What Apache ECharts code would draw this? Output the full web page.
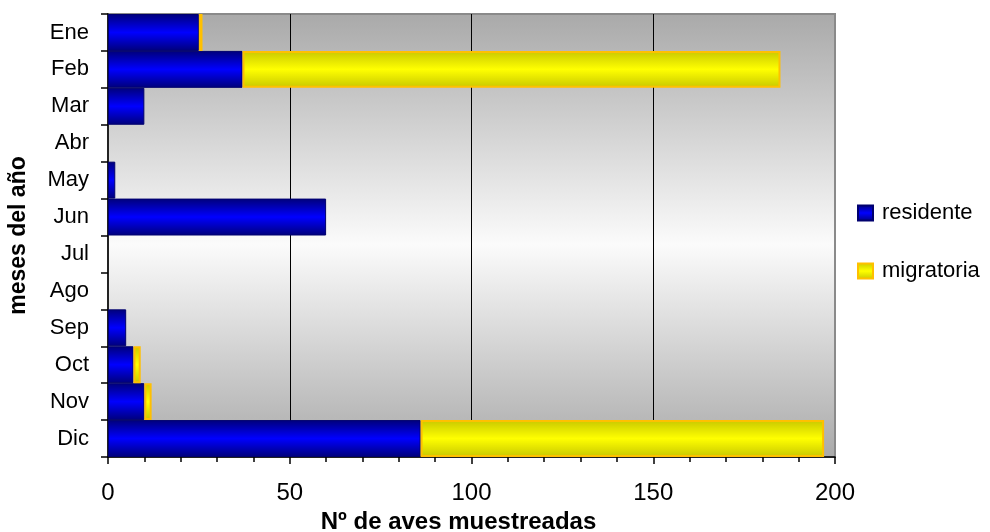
<!DOCTYPE html>
<html>
<head>
<meta charset="utf-8">
<script src="https://cdn.jsdelivr.net/npm/echarts@6/dist/echarts.min.js"></script>
<style>
  html, body { margin: 0; padding: 0; background: #ffffff; }
  #chart { width: 990px; height: 532px; }
</style>
</head>
<body>
<div id="chart"></div>
<script>
// Monthly counts of sampled birds, split by resident / migratory status
const months = ['Ene', 'Feb', 'Mar', 'Abr', 'May', 'Jun', 'Jul', 'Ago', 'Sep', 'Oct', 'Nov', 'Dic'];
const residente = [25, 37, 10, 0, 2, 60, 0, 0, 5, 7, 10, 86];
const migratoria = [1, 148, 0, 0, 0, 0, 0, 0, 0, 2, 2, 111];
const seriesNames = ['residente', 'migratoria'];
const xTicks = [0, 50, 100, 150, 200];

const FONT = '"Liberation Sans", Arial, sans-serif';

// empty months get no rectangle at all
const toBars = arr => arr.map(v => (v === 0 ? null : v));

const band = (edge, mid) => new echarts.graphic.LinearGradient(0, 0, 0, 1, [
  { offset: 0, color: edge },
  { offset: 0.5, color: mid },
  { offset: 1, color: edge }
]);

const chart = echarts.init(document.getElementById('chart'), null, { renderer: 'canvas' });

chart.setOption({
  animation: false,
  backgroundColor: '#ffffff',
  grid: {
    left: 108,
    right: 155,
    top: 14,
    bottom: 75,
    outerBoundsMode: 'none',
    containLabel: false,
    show: true,
    borderColor: '#8a8a8a',
    borderWidth: 2,
    backgroundColor: new echarts.graphic.LinearGradient(0, 0, 0, 1, [
      { offset: 0, color: '#a9a9a9' },
      { offset: 0.52, color: '#fbfbfb' },
      { offset: 1, color: '#a9a9a9' }
    ])
  },
  legend: {
    orient: 'vertical',
    left: 857,
    top: 202,
    padding: 0,
    itemWidth: 15,
    itemHeight: 15,
    itemGap: 36,
    icon: 'rect',
    textStyle: { fontFamily: FONT, fontSize: 22, color: '#000000', padding: [0, 0, 0, 4] },
    data: seriesNames
  },
  xAxis: {
    type: 'value',
    min: xTicks[0],
    max: xTicks[xTicks.length - 1],
    interval: xTicks[1] - xTicks[0],
    name: 'Nº de aves muestreadas',
    nameLocation: 'middle',
    nameGap: 52,
    nameTextStyle: {
      fontFamily: FONT, fontSize: 24, fontWeight: 'bold', color: '#000000',
      padding: [0, 26, 0, 0]
    },
    axisLine: { show: true, lineStyle: { color: '#000000', width: 1.5 } },
    axisTick: { show: true, length: 7, lineStyle: { color: '#000000', width: 1.5 } },
    minorTick: { show: true, splitNumber: 5, length: 5, lineStyle: { color: '#000000', width: 1.5 } },
    axisLabel: { fontFamily: FONT, fontSize: 24, color: '#000000', margin: 24 },
    splitLine: { show: true, showMinLine: false, showMaxLine: false, lineStyle: { color: '#000000', width: 1 } },
    minorSplitLine: { show: false }
  },
  yAxis: {
    type: 'category',
    data: months,
    inverse: true,
    name: 'meses del año',
    nameLocation: 'middle',
    nameGap: 78,
    nameRotate: 90,
    nameTextStyle: { fontFamily: FONT, fontSize: 23, fontWeight: 'bold', color: '#000000' },
    axisLine: { show: true, lineStyle: { color: '#000000', width: 1.5 } },
    axisTick: { show: true, length: 7, lineStyle: { color: '#000000', width: 1.5 } },
    axisLabel: { fontFamily: FONT, fontSize: 22, color: '#000000', margin: 19 },
    splitLine: { show: false }
  },
  series: [
    {
      name: seriesNames[0],
      type: 'bar',
      stack: 'aves',
      barCategoryGap: '0%',
      data: toBars(residente),
      itemStyle: {
        color: band('#00007a', '#0000ff'),
        borderColor: '#00006e',
        borderWidth: 1
      }
    },
    {
      name: seriesNames[1],
      type: 'bar',
      stack: 'aves',
      barCategoryGap: '0%',
      data: toBars(migratoria),
      itemStyle: {
        color: band('#c8c800', '#ffff00'),
        borderColor: '#ffc000',
        borderWidth: 2
      }
    }
  ]
});
</script>
</body>
</html>
